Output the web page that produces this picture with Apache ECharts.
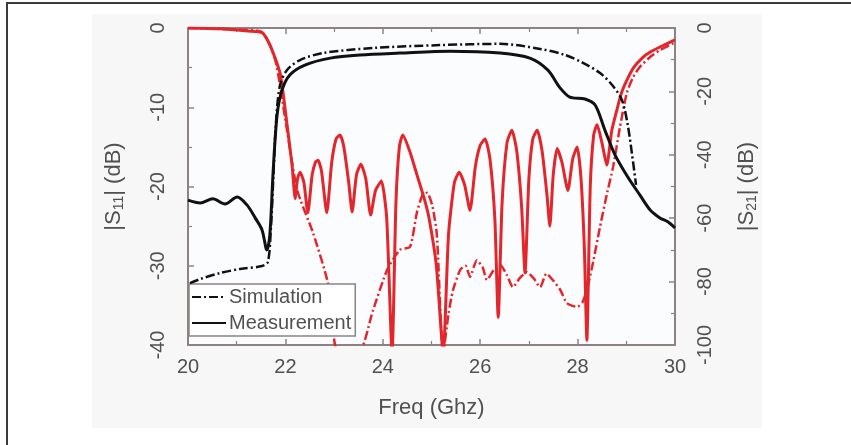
<!DOCTYPE html>
<html>
<head>
<meta charset="utf-8">
<script src="https://cdn.jsdelivr.net/npm/echarts@6/dist/echarts.min.js"></script>
<style>
html,body{margin:0;padding:0;background:#fff;}
#chart{width:851px;height:445px;}
</style>
</head>
<body>
<div id="chart"></div>
<script>
// ---- Data ----
var xTicks = [20, 22, 24, 26, 28, 30];
var leftTicks = [0, -10, -20, -30, -40];
var rightTicks = [0, -20, -40, -60, -80, -100];

// |S11| measurement (red solid, left axis)
var s11MeasFreq = [20.0, 20.66, 21.07, 21.52, 21.68, 21.89, 22.03, 22.14, 22.20, 22.25, 22.30, 22.38, 22.46, 22.55, 22.62, 22.67, 22.74, 22.85, 22.95, 23.04, 23.12, 23.20, 23.30, 23.37, 23.46, 23.55, 23.65, 23.75, 23.85, 23.97, 24.08, 24.19, 24.27, 24.34, 24.41, 24.55, 24.70, 24.85, 24.95, 25.10, 25.24, 25.35, 25.47, 25.57, 25.68, 25.79, 25.90, 26.00, 26.10, 26.20, 26.30, 26.37, 26.45, 26.55, 26.65, 26.75, 26.85, 26.92, 27.00, 27.08, 27.17, 27.27, 27.37, 27.43, 27.50, 27.58, 27.68, 27.80, 27.90, 27.99, 28.07, 28.14, 28.19, 28.26, 28.33, 28.40, 28.50, 28.60, 28.70, 28.80, 28.90, 29.01, 29.15, 29.34, 29.50, 29.69, 30.0];
var s11MeasVal  = [0, -0.1, -0.3, -0.6, -2.1, -5.7, -12.0, -17.5, -21.5, -19.0, -18.2, -19.5, -23.3, -18.5, -16.9, -16.7, -18.0, -23.3, -17.0, -14.0, -13.5, -15.0, -19.5, -23.2, -18.5, -17.2, -19.0, -23.6, -20.5, -19.3, -24.0, -41, -22.0, -15.0, -13.5, -15.5, -18.5, -21.5, -24.0, -30.0, -41, -26.0, -19.5, -18.2, -19.8, -23.0, -17.5, -14.8, -14.0, -16.5, -24.0, -36.5, -22.0, -14.5, -12.9, -15.5, -22.5, -30.9, -19.0, -14.0, -12.9, -15.5, -21.0, -25.0, -18.5, -15.2, -17.0, -20.5, -16.5, -15.0, -19.0, -28.0, -39.4, -20.0, -13.5, -12.2, -14.5, -17.3, -13.0, -10.5, -8.2, -6.6, -5.0, -3.7, -3.0, -2.4, -1.5];

// |S11| simulation (red dash-dot, left axis)
var s11SimFreq = [20.0, 21.0, 21.52, 21.79, 22.0, 22.24, 22.57, 22.87, 23.08, 23.5, 23.80, 24.09, 24.35, 24.56, 24.70, 24.82, 24.91, 25.02, 25.11, 25.24, 25.35, 25.44, 25.59, 25.70, 25.79, 25.93, 26.05, 26.14, 26.28, 26.41, 26.55, 26.67, 26.82, 26.96, 27.10, 27.23, 27.36, 27.49, 27.64, 27.78, 27.99, 28.10, 28.19, 28.32, 28.46, 28.60, 28.73, 28.87, 29.01, 29.14, 29.28, 29.50, 29.69, 30.0];
var s11SimVal  = [0, -0.2, -0.5, -4.0, -11.6, -20.4, -25.9, -32.1, -41, -41, -35.6, -30.5, -28.0, -27.6, -23.3, -21.0, -20.8, -22.5, -26.1, -41, -36.0, -33.1, -30.5, -30.0, -31.4, -29.3, -30.2, -31.8, -30.5, -29.9, -31.2, -32.7, -31.5, -30.8, -31.6, -32.7, -31.0, -31.8, -33.0, -34.7, -35.2, -34.6, -33.1, -29.5, -25.1, -21.0, -17.5, -12.5, -8.2, -6.2, -4.9, -3.6, -2.8, -1.8];

// |S21| measurement (black solid, right axis)
var s21MeasFreq = [20.0, 20.25, 20.51, 20.76, 21.01, 21.21, 21.38, 21.52, 21.62, 21.68, 21.75, 21.83, 21.93, 22.09, 22.40, 22.92, 23.53, 24.35, 25.38, 26.41, 27.02, 27.39, 27.64, 27.84, 28.15, 28.36, 28.56, 28.77, 29.03, 29.28, 29.49, 29.69, 29.86, 30.0];
var s21MeasVal  = [-54.3, -55.2, -53.9, -55.5, -53.3, -55.8, -59.9, -63.7, -70.0, -65.3, -44.8, -27.4, -19.6, -14.8, -11.7, -9.5, -8.5, -7.9, -7.3, -7.9, -9.5, -13.3, -18.9, -21.8, -22.4, -24.3, -32.2, -40.1, -47.0, -52.7, -57.4, -59.9, -61.2, -63.1];

// |S21| simulation (black dash-dot, right axis)
var s21SimFreq = [20.04, 20.25, 20.66, 21.07, 21.52, 21.64, 21.70, 21.75, 21.81, 21.89, 22.03, 22.30, 22.77, 23.80, 25.17, 26.41, 27.23, 27.74, 28.11, 28.46, 28.71, 28.91, 29.03, 29.12, 29.20];
var s21SimVal  = [-80.5, -79.2, -77.3, -76.0, -75.1, -73.8, -63.7, -48.0, -29.0, -18.0, -13.3, -10.1, -7.9, -6.3, -5.4, -5.0, -6.6, -8.5, -11.0, -14.2, -18.0, -22.7, -30.6, -40.1, -49.5];

function pairs(xs, ys) { return xs.map(function (x, i) { return [x, ys[i]]; }); }

var RED = '#e3262b';
var BLACK = '#111111';
var AXIS = '#8c8282';
var TXT = '#505050';
var FONT = 'Liberation Sans';
var DASHDOT = [9, 3, 2, 3];

var chart = echarts.init(document.getElementById('chart'), null, {renderer: 'canvas'});

var axisCommon = {
  axisLine: {show: true, onZero: false, lineStyle: {color: AXIS, width: 2}},
  axisTick: {show: true, inside: true, length: 6, lineStyle: {color: AXIS, width: 1.5}},
  minorTick: {show: true, splitNumber: 2, length: 4, lineStyle: {color: AXIS, width: 1.2}},
  splitLine: {show: false}
};

var option = {
  backgroundColor: '#ffffff',
  animation: false,
  textStyle: {fontFamily: FONT},
  graphic: [
    {type: 'rect', z: -10, silent: true,
     shape: {x: 92, y: 14, width: 670, height: 414},
     style: {fill: '#f8f7f7'}},
    {type: 'rect', z: -9, silent: true,
     shape: {x: 188, y: 28, width: 487, height: 317},
     style: {fill: '#fbfcfd'}},
    {type: 'rect', z: 100, silent: true,
     shape: {x: 7, y: 3, width: 870, height: 470},
     style: {fill: 'none', stroke: '#3a3a3a', lineWidth: 2}}
  ],
  grid: {left: 188, right: 176, top: 28, bottom: 100, containLabel: false},
  legend: {
    orient: 'vertical',
    left: 189, top: 284,
    data: ['Simulation', 'Measurement'],
    backgroundColor: '#ffffff',
    borderColor: AXIS, borderWidth: 1.5, borderRadius: 0,
    padding: [3, 4, 3, 2],
    itemGap: 6, itemWidth: 34, itemHeight: 14,
    itemStyle: {opacity: 0},
    textStyle: {fontFamily: FONT, fontSize: 20, color: TXT, padding: [0, 0, 0, -2]},
    selectedMode: false
  },
  xAxis: [Object.assign({
    type: 'value', min: 20, max: 30, interval: 2,
    name: 'Freq (Ghz)', nameLocation: 'middle', nameGap: 52,
    nameTextStyle: {fontFamily: FONT, fontSize: 22, color: TXT},
    axisLabel: {fontFamily: FONT, fontSize: 20, color: TXT, margin: 12,
      formatter: function (v) { return xTicks.indexOf(v) >= 0 ? String(v) : ''; }}
  }, axisCommon), Object.assign({
    type: 'value', min: 20, max: 30, interval: 2, position: 'top',
    axisLabel: {show: false}
  }, axisCommon)],
  yAxis: [Object.assign({
    type: 'value', min: -40, max: 0, interval: 10, position: 'left',
    name: '{t||S}{s|11}{t|| (dB)}', nameLocation: 'middle', nameGap: 62, nameRotate: 90,
    nameTextStyle: {fontFamily: FONT, color: TXT,
      rich: {t: {fontFamily: FONT, fontSize: 22, color: TXT},
             s: {fontFamily: FONT, fontSize: 14, color: TXT, verticalAlign: 'bottom', padding: [10, 0, 0, 0]}}},
    axisLabel: {fontFamily: FONT, fontSize: 20, color: TXT, rotate: 90, margin: 20,
      formatter: function (v) { return leftTicks.indexOf(v) >= 0 ? String(v) : ''; }}
  }, axisCommon), Object.assign({
    type: 'value', min: -100, max: 0, interval: 20, position: 'right',
    name: '{t||S}{s|21}{t|| (dB)}', nameLocation: 'middle', nameGap: 60, nameRotate: 90,
    nameTextStyle: {fontFamily: FONT, color: TXT,
      rich: {t: {fontFamily: FONT, fontSize: 22, color: TXT},
             s: {fontFamily: FONT, fontSize: 14, color: TXT, verticalAlign: 'bottom', padding: [10, 0, 0, 0]}}},
    axisLabel: {fontFamily: FONT, fontSize: 20, color: TXT, rotate: 90, margin: 20,
      formatter: function (v) { return rightTicks.indexOf(v) >= 0 ? String(v) : ''; }}
  }, axisCommon)],
  series: [
    {name: 'S11 Simulation', type: 'line', xAxisIndex: 0, yAxisIndex: 0,
     data: pairs(s11SimFreq, s11SimVal), showSymbol: false, symbol: 'none', smooth: 0.2, clip: true,
     lineStyle: {color: RED, width: 2.5, type: DASHDOT}, z: 3},
    {name: 'S11 Measurement', type: 'line', xAxisIndex: 0, yAxisIndex: 0,
     data: pairs(s11MeasFreq, s11MeasVal), showSymbol: false, symbol: 'none', smooth: 0.2, clip: true,
     lineStyle: {color: RED, width: 3}, z: 4},
    {name: 'Simulation', type: 'line', xAxisIndex: 0, yAxisIndex: 1,
     data: pairs(s21SimFreq, s21SimVal), showSymbol: false, symbol: 'none', smooth: 0.3, clip: true,
     itemStyle: {color: BLACK},
     lineStyle: {color: BLACK, width: 2.5, type: DASHDOT}, z: 5},
    {name: 'Measurement', type: 'line', xAxisIndex: 0, yAxisIndex: 1,
     data: pairs(s21MeasFreq, s21MeasVal), showSymbol: false, symbol: 'none', smooth: 0.3, clip: true,
     itemStyle: {color: BLACK},
     lineStyle: {color: BLACK, width: 3}, z: 6}
  ]
};
chart.setOption(option);
</script>
</body>
</html>
